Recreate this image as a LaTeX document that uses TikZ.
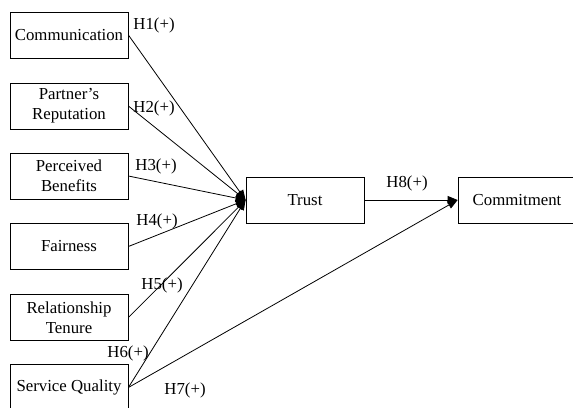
\documentclass[tikz,border=0pt]{standalone}
\usepackage{fontspec}
\setmainfont{Liberation Serif}
\usetikzlibrary{arrows.meta}
\begin{document}
\begin{tikzpicture}[x=1pt,y=-1pt,
  box/.style={draw,line width=0.8pt,minimum width=118pt,minimum height=46pt,inner sep=0pt,align=center,font=\fontsize{16.8}{20}\selectfont},
  lab/.style={inner sep=0pt,font=\fontsize{16.8}{20}\selectfont},
  con/.style={line width=0.8pt,-{Triangle[length=10pt,width=8pt]}}]
\useasboundingbox (0,0) rectangle (573,407);
\clip (0,0) rectangle (573,407);
\fill[white] (0,0) rectangle (573,407);
\node[box] (c1) at (69,35) {Communication};
\node[box] (c2) at (69,106) {Partner’s\\Reputation};
\node[box] (c3) at (69,176) {Perceived\\Benefits};
\node[box] (c4) at (69,246.5) {Fairness};
\node[box] (c5) at (69,317.5) {Relationship\\Tenure};
\node[box] (c6) at (69,387.5) {Service Quality};
\node[box] (t) at (305,200) {Trust};
\node[box] (cm) at (517,200) {Commitment};
\foreach \i in {1,...,6} {\draw[con] (c\i.east) -- (t.west);}
\draw[con] (c6.east) -- (cm.west);
\draw[con] (t.east) -- (cm.west);
\node[lab] (h1) at (154,25) {H1(+)};
\node[lab] (h2) at (154,108) {H2(+)};
\node[lab] (h3) at (156,166) {H3(+)};
\node[lab] (h4) at (157,221) {H4(+)};
\node[lab] (h5) at (162,285) {H5(+)};
\node[lab] (h6) at (128,353) {H6(+)};
\node[lab] (h7) at (185,390) {H7(+)};
\node[lab] (h8) at (407,183) {H8(+)};
\end{tikzpicture}
\end{document}
